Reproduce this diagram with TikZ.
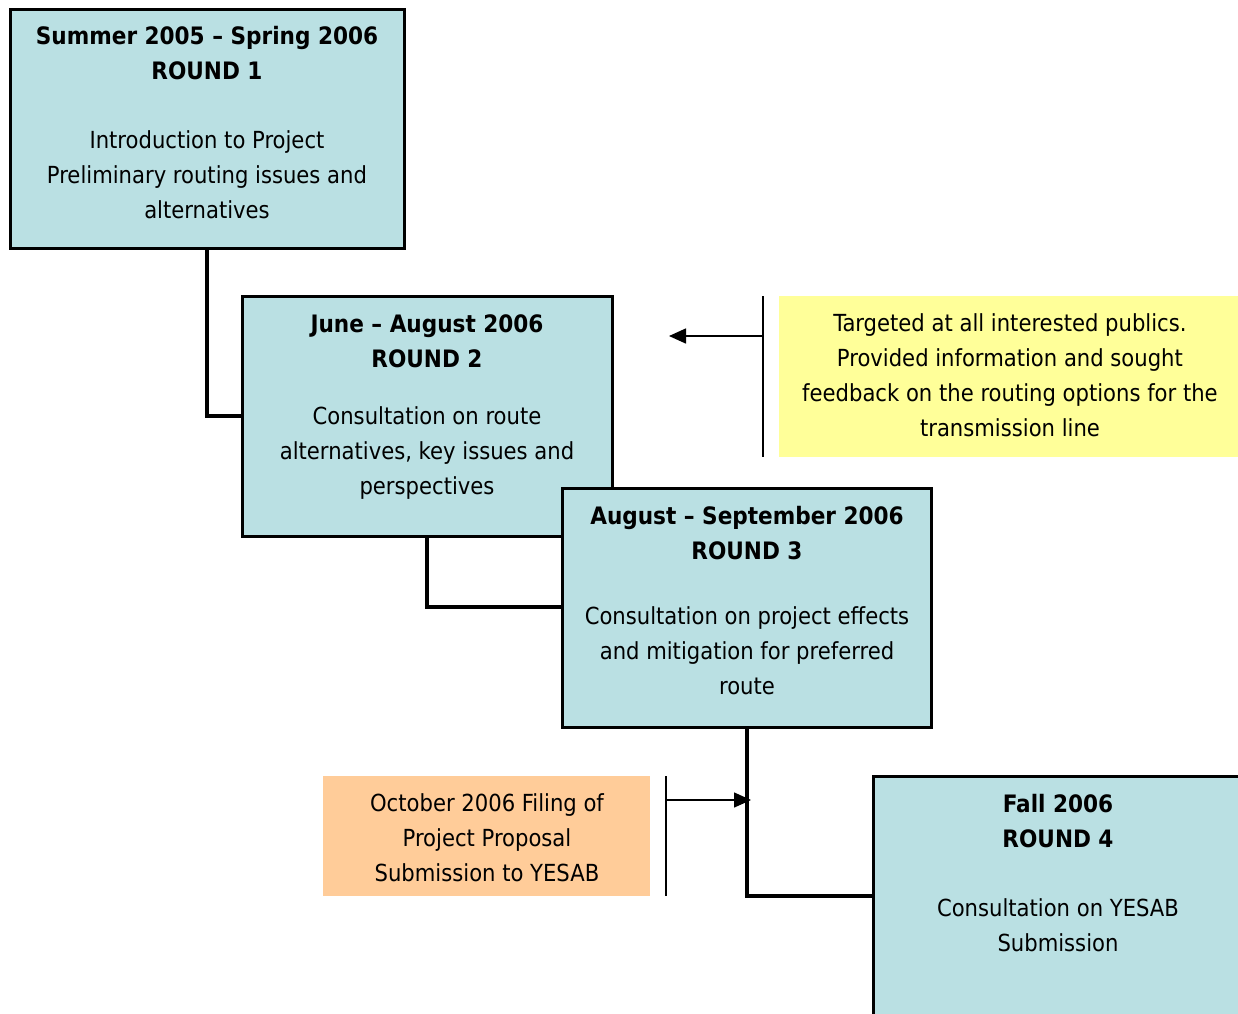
\documentclass[tikz,border=0pt]{standalone}
\usepackage{fontspec}
\setmainfont{DejaVu Sans Condensed}
\usetikzlibrary{arrows.meta}
\definecolor{roundblue}{HTML}{BAE0E3}
\definecolor{noteyellow}{HTML}{FFFF99}
\definecolor{noteorange}{HTML}{FFCC99}
\begin{document}
\begin{tikzpicture}[x=1pt,y=-1pt,
  roundbox/.style={draw=black,line width=3pt,fill=roundblue},
  txt/.style={align=center,inner sep=0pt,font=\fontsize{23.5}{35}\selectfont},
  ttl/.style={txt,font=\fontsize{24}{35}\selectfont\bfseries},
  link/.style={line width=3.2pt},
  thin/.style={line width=1.5pt},
  tip/.style={-{Triangle[length=17pt,width=15pt]},line width=1.5pt}]
\clip (0,0) rectangle (1238,1013);
\fill[white] (0,0) rectangle (1238,1013);
% boxes
\path[roundbox] (10,9) rectangle (404,248);
\coordinate (b1) at (207,248);
\path[roundbox] (242,296) rectangle (612,536);
\coordinate (b2l) at (242,416);
\coordinate (b2) at (427,536);
\path[roundbox] (562,488) rectangle (931,727);
\coordinate (b3l) at (562,607);
\coordinate (b3) at (747,727);
\path[roundbox] (873,776) rectangle (1260,1040);
\coordinate (b4l) at (873,896);
\fill[noteyellow] (779,296) rectangle (1238,457);
\fill[noteorange] (323,776) rectangle (650,896);
% texts
\node[ttl] (t1) at (207,53.5) {Summer 2005 -- Spring 2006\\ROUND 1};
\node[txt] (d1) at (207,175) {Introduction to Project\\Preliminary routing issues and\\alternatives};
\node[ttl] (t2) at (427,341.5) {June -- August 2006\\ROUND 2};
\node[txt] (d2) at (427,453) {Consultation on route\\alternatives, key issues and\\perspectives};
\node[ttl] (t3) at (747,533.5) {August -- September 2006\\ROUND 3};
\node[txt] (d3) at (747,651) {Consultation on project effects\\and mitigation for preferred\\route};
\node[ttl] (t4) at (1058,821.5) {Fall 2006\\ROUND 4};
\node[txt] (d4) at (1058,925.5) {Consultation on YESAB\\Submission};
\node[txt] (y1) at (1010,375) {Targeted at all interested publics.\\Provided information and sought\\feedback on the routing options for the\\transmission line};
\node[txt] (o1) at (487,838) {October 2006 Filing of\\Project Proposal\\Submission to YESAB};
% connectors
\draw[link] (b1) |- (b2l);
\draw[link] (b2) |- (b3l);
\draw[link] (b3) |- (b4l);
\coordinate (v1t) at (763,296);
\coordinate (v1b) at (763,457);
\coordinate (v1m) at (763,336);
\coordinate (a1) at (669,336);
\draw[thin] (v1t) -- (v1b);
\draw[tip] (v1m) -- (a1);
\coordinate (v2t) at (666,776);
\coordinate (v2b) at (666,896);
\coordinate (v2m) at (666,800);
\coordinate (a2) at (751,800);
\draw[thin] (v2t) -- (v2b);
\draw[tip] (v2m) -- (a2);
\end{tikzpicture}
\end{document}
